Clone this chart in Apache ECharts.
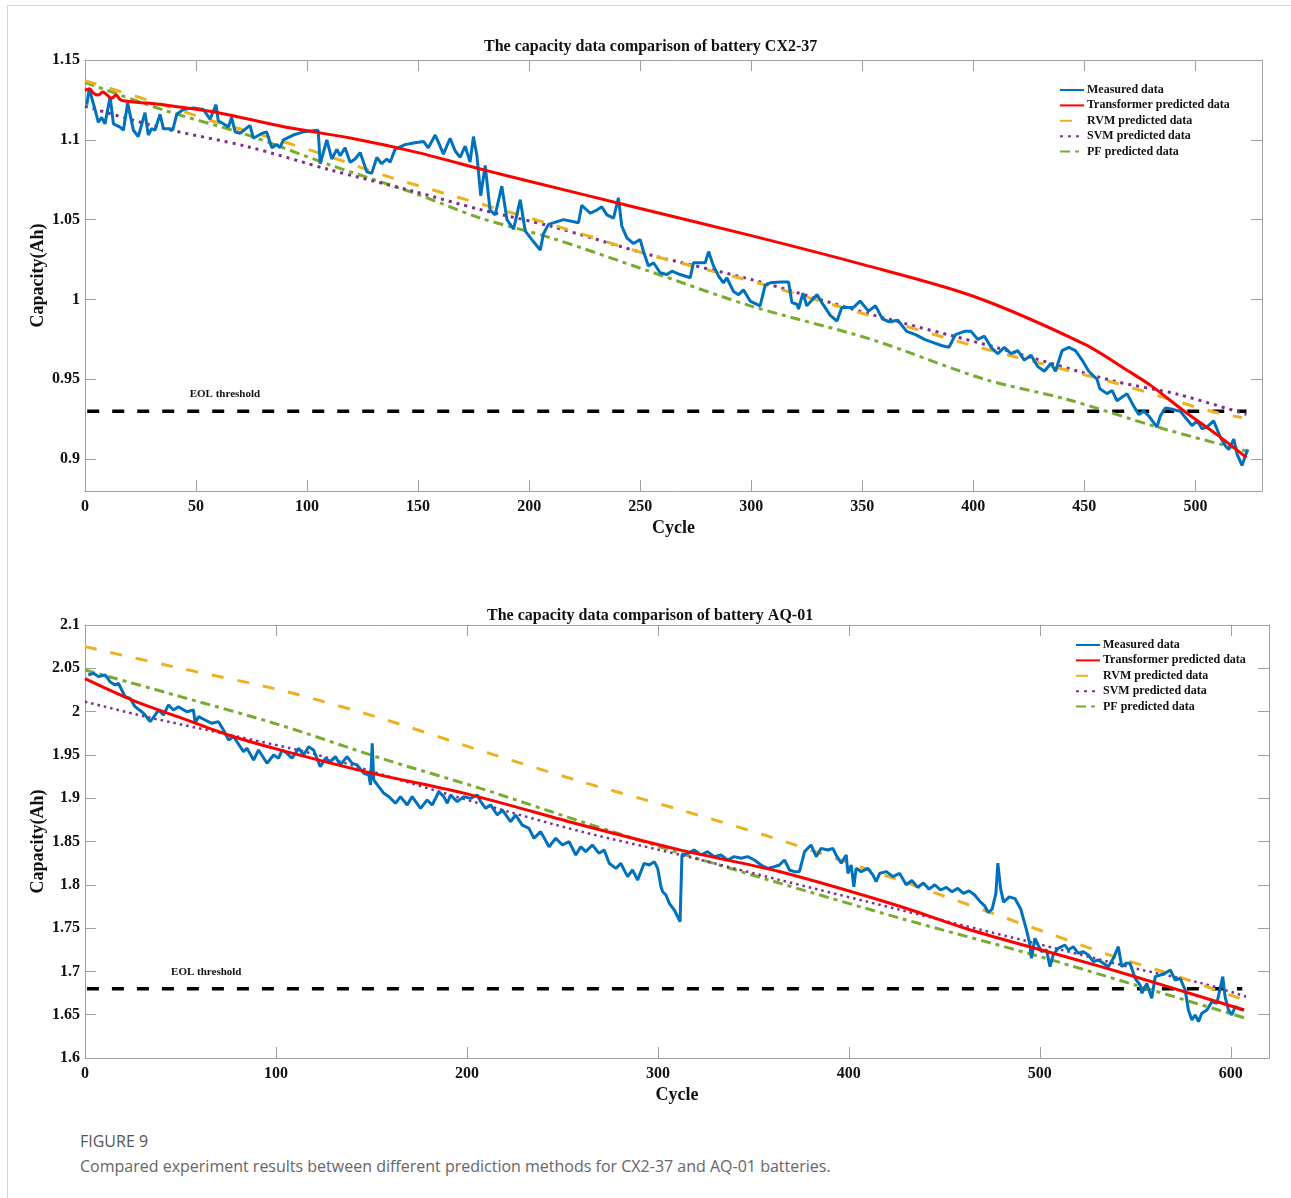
<!doctype html>
<html lang="en">
<head>
<meta charset="UTF-8">
<title>Capacity data comparison</title>
<script src="https://cdn.jsdelivr.net/npm/echarts@6/dist/echarts.min.js"></script>
<style>
  html, body { margin: 0; padding: 0; background: #fff; }
  body { width: 1291px; height: 1198px; position: relative; overflow: hidden; }
  .frame { position: absolute; left: 7px; top: 5px; right: 0; bottom: 0; z-index: 5; pointer-events: none;
           border-left: 1px solid #d4d4d4; border-top: 1px solid #d4d4d4; }
  #chart { position: absolute; left: 0; top: 0; width: 1291px; height: 1115px; }
  .fig-no { position: absolute; left: 80px; top: 1130px; font: 16px 'Open Sans', sans-serif; color: #555; }
  .fig-text { position: absolute; left: 80px; top: 1155px; font: 16px 'Open Sans', sans-serif; color: #666; }
</style>
</head>
<body>
<div id="chart"></div>
<div class="frame"></div>
<div class="fig-no">FIGURE 9</div>
<div class="fig-text">Compared experiment results between different prediction methods for CX2-37 and AQ-01 batteries.</div>

<script>
// ---- data: battery CX2-37 ----
var cx2Measured = [
  [0.8,1.122],[1.9,1.132],[4.5,1.119],[6,1.111],[7.5,1.114],[9,1.110],[11.3,1.127],[12.8,1.110],[15.8,1.108],[17.3,1.106],
  [19.2,1.123],[21.8,1.106],[24,1.102],[27,1.117],[28.5,1.103],[30,1.107],[31.5,1.106],[33.8,1.116],[35.3,1.107],[38.3,1.107],
  [39.5,1.106],[41.3,1.116],[44.3,1.119],[48.8,1.120],[53.3,1.119],[54.8,1.116],[56.3,1.113],[59,1.122],[60,1.112],[62.3,1.110],
  [64.6,1.108],[66,1.114],[67.6,1.105],[69.8,1.104],[74.3,1.109],[75.8,1.101],[79.6,1.104],[81.8,1.105],[84.1,1.095],[86.4,1.097],
  [87.8,1.095],[89.3,1.100],[93.8,1.103],[98.3,1.105],[105,1.106],[105.9,1.085],[108.9,1.100],[111.1,1.088],[113.4,1.094],[114.9,1.090],
  [117.1,1.095],[119.4,1.086],[121.6,1.088],[123.9,1.092],[126.9,1.080],[129.1,1.079],[131.4,1.089],[133.6,1.085],[135.9,1.088],[137.4,1.086],
  [139.6,1.094],[144.1,1.097],[147.9,1.098],[152.4,1.099],[154.6,1.095],[157.7,1.103],[159.9,1.096],[161.4,1.091],[164.4,1.101],[166.7,1.093],
  [168.9,1.089],[171.2,1.096],[173.4,1.086],[174.9,1.102],[176.5,1.090],[178.2,1.065],[180.2,1.084],[182.4,1.056],[184.7,1.053],[187.7,1.071],
  [190,1.050],[193,1.044],[196,1.0625],[198.2,1.043],[201.2,1.0375],[205,1.031],[206.4,1.041],[208.7,1.047],[215.5,1.050],[222.2,1.048],
  [223.7,1.059],[227.5,1.054],[230.5,1.056],[232.7,1.058],[235,1.053],[238,1.051],[240.2,1.0636],[241.7,1.046],[244,1.0386],[247,1.035],
  [250,1.0375],[251.5,1.030],[253.7,1.021],[256,1.023],[259,1.0167],[262,1.0156],[264.3,1.0177],[268,1.0156],[272.5,1.0136],[274,1.023],
  [279.3,1.023],[280.8,1.030],[283,1.021],[285.3,1.0146],[287.5,1.0104],[289,1.0136],[292,1.005],[294.3,1.003],[296.5,1.006],[299.5,0.999],
  [304,0.996],[306.3,1.009],[308.6,1.0104],[313.1,1.011],[316.8,1.011],[318.3,0.998],[320.6,0.997],[321.3,0.994],[323.3,1.004],[325,0.996],
  [329.6,1.003],[331.8,0.998],[335.6,0.990],[338.6,0.9865],[340.8,0.995],[346.1,0.995],[349,0.999],[352.8,0.9927],[356,0.996],[359,0.988],
  [362,0.986],[366,0.987],[370,0.980],[374,0.978],[378,0.975],[382,0.973],[386,0.971],[389,0.970],[392,0.978],[396,0.980],
  [399,0.980],[402,0.975],[405,0.977],[408,0.970],[411,0.966],[414,0.970],[417,0.966],[420,0.968],[423,0.962],[426,0.965],
  [429,0.958],[432,0.955],[435,0.960],[437,0.955],[440,0.968],[443,0.970],[446,0.968],[449,0.962],[452,0.955],[455.7,0.950],
  [457,0.944],[460.2,0.941],[462.5,0.943],[464.7,0.9365],[469.2,0.941],[472.2,0.9333],[474.5,0.928],[476.7,0.930],[479,0.927],[482.7,0.920],
  [484.2,0.927],[486.5,0.932],[490.2,0.931],[493.2,0.930],[495.5,0.926],[498.5,0.921],[500.8,0.924],[503,0.919],[505.2,0.920],[508.2,0.924],
  [511.3,0.9135],[513.5,0.9083],[515,0.906],[517.3,0.9125],[518.8,0.903],[521,0.896],[522.5,0.902],[523.6,0.906]
];
var cx2Transformer = [
  [0,1.131],[2,1.132],[4,1.129],[6,1.128],[8,1.130],[10,1.128],[12,1.126],[14,1.128],[16,1.125],[20,1.124],
  [28,1.123],[40,1.121],[60,1.117],[90,1.108],[120,1.101],[150,1.092],[180,1.081],[200,1.074],[250,1.057],[300,1.040],
  [350,1.022],[400,1.002],[450,0.972],[470,0.955],[480,0.946],[495,0.930],[510,0.915],[523,0.901]
];
var cx2RVM = [
  [0,1.137],[35,1.122],[58,1.1115],[82,1.102],[110,1.0896],[134,1.078],[164,1.0656],[210,1.047],[254,1.028],[300,1.0115],
  [354,0.9896],[400,0.971],[463,0.948],[507,0.930],[521,0.926]
];
var cx2SVM = [
  [0,1.121],[35,1.1073],[73,1.0958],[110,1.0813],[148,1.0677],[178,1.0563],[210,1.0458],[254,1.0281],[300,1.0125],[354,0.9906],
  [410,0.970],[463,0.949],[492,0.9406],[523,0.928]
];
var cx2PF = [
  [0,1.136],[35,1.1188],[73,1.1031],[110,1.0844],[148,1.0667],[178,1.051],[210,1.0385],[254,1.0177],[300,0.9958],[354,0.975],
  [405,0.950],[442,0.9375],[483,0.920],[523,0.905]
];
var cx2Eol = [[1,0.93],[523,0.93]];
var cx2EolLabel = [63, 0.9406];
var cx2XTicks = [0, 50, 100, 150, 200, 250, 300, 350, 400, 450, 500];
var cx2YTicks = [0.9, 0.95, 1, 1.05, 1.1, 1.15];

// ---- data: battery AQ-01 ----
var aqMeasured = [
  [1.75,2.0423],[4.4,2.0442],[7,2.0404],[10.5,2.0423],[13.1,2.0346],[15.7,2.0307],[17.5,2.0327],[21,2.0173],[23.6,2.0153],[26.2,2.0057],
  [29.7,1.9999],[31.5,1.996],[34.1,1.9884],[36.7,1.996],[38.5,2.0019],[41.1,1.996],[43.7,2.0077],[46.3,2.0019],[48.9,2.0057],[53.3,1.9999],
  [56.8,2.0019],[57.7,1.9865],[59.4,1.9942],[62.9,1.9903],[66.4,1.9865],[69.9,1.9884],[72.5,1.9788],[75.2,1.9672],[77.8,1.9711],[83,1.9538],
  [84.8,1.9576],[88.3,1.9441],[90.9,1.9557],[95.3,1.9403],[98.8,1.9499],[101.4,1.9461],[103.2,1.9557],[105.8,1.9518],[108.4,1.9461],[111.9,1.9576],
  [114.5,1.9499],[117.1,1.9595],[119.7,1.9557],[123.2,1.9364],[125.9,1.9461],[128.5,1.9422],[131.1,1.948],[133.7,1.9384],[137.2,1.948],[139.9,1.9403],
  [142.5,1.9384],[146,1.9287],[148.6,1.9268],[149.5,1.9153],[150.4,1.9634],[151.2,1.921],[153.8,1.9133],[156.5,1.9056],[159.1,1.9018],[162.6,1.8941],
  [165.2,1.9018],[168.7,1.8922],[171.3,1.9018],[175.7,1.8883],[179.2,1.8979],[181.8,1.8922],[185.3,1.9075],[187.9,1.9018],[189.7,1.8941],[191.4,1.9037],
  [194.9,1.896],[198.4,1.9018],[201.9,1.8998],[205.4,1.9037],[207.2,1.896],[209.8,1.8883],[212.4,1.8922],[215.9,1.8806],[218.5,1.8864],[222.9,1.8729],
  [225.5,1.8806],[229,1.869],[232.5,1.8652],[235.1,1.8537],[238.6,1.8614],[243,1.844],[246.5,1.8537],[250,1.846],[253.5,1.8498],[257,1.8344],
  [259.6,1.844],[262.2,1.8383],[265.7,1.846],[269.2,1.8363],[271.9,1.8402],[274.5,1.8248],[278,1.819],[280.6,1.8248],[284.1,1.8094],[286.7,1.8171],
  [289.4,1.8056],[292.8,1.8248],[295.5,1.8229],[298.1,1.8267],[299.9,1.819],[301.6,1.7978],[302.5,1.792],[304.2,1.7882],[306,1.7786],[308.6,1.7709],
  [311.6,1.7574],[312.6,1.8344],[315.6,1.8363],[319,1.8402],[322.5,1.8344],[326,1.8383],[329.5,1.8325],[333,1.8344],[336.5,1.8286],[340,1.8325],
  [343.5,1.8306],[347,1.8325],[350.5,1.8286],[354,1.8229],[357.5,1.819],[361,1.8209],[363.6,1.8229],[366.3,1.8286],[368.9,1.8171],[371.5,1.8152],
  [374.1,1.8152],[376.8,1.8383],[380.2,1.846],[382.9,1.8325],[385.5,1.8421],[389,1.8402],[391.6,1.8421],[393.3,1.8344],[396,1.8248],[398.6,1.8344],
  [399.5,1.8132],[401.2,1.8229],[402.6,1.7978],[403.8,1.819],[406.5,1.8152],[409.9,1.819],[412.6,1.8113],[414.3,1.8036],[416.1,1.8132],[419.6,1.8152],
  [423.1,1.8094],[426.6,1.8132],[430,1.800],[433,1.805],[436,1.797],[439,1.802],[442,1.795],[445,1.800],[448,1.794],[451,1.797],
  [454,1.792],[457,1.796],[460,1.790],[463,1.793],[466,1.788],[469,1.780],[471,1.776],[473,1.768],[475,1.772],[477,1.790],
  [478,1.825],[479.5,1.795],[481,1.780],[484,1.786],[487,1.784],[490,1.772],[493,1.748],[494.7,1.7324],[495.6,1.7151],[497.4,1.7382],
  [499.1,1.7305],[500.9,1.7228],[503.5,1.7247],[505.3,1.7055],[507,1.719],[509.6,1.7266],[513.1,1.7305],[514.9,1.7247],[517.5,1.7286],[520.1,1.7209],
  [522.8,1.7228],[525.4,1.719],[528,1.7112],[530.6,1.7132],[533.3,1.7093],[535.9,1.7055],[538.5,1.7151],[541.1,1.7286],[542.9,1.7055],[545,1.7093],
  [547.2,1.7093],[549.9,1.692],[552.5,1.6843],[553.4,1.6747],[556,1.6862],[558.6,1.6689],[560.4,1.6939],[563,1.6958],[565.6,1.6978],[568.3,1.7016],
  [570.9,1.6901],[573.5,1.692],[576.1,1.6785],[577.8,1.6554],[579.6,1.6439],[581.3,1.6497],[583.1,1.642],[584.8,1.6516],[587.5,1.6554],[590.1,1.665],
  [592.7,1.6631],[594.4,1.6804],[595.8,1.6939],[597,1.6708],[598.8,1.6554],[600.5,1.6497],[602.3,1.6593],[604,1.6573],[606.6,1.6554]
];
var aqTransformer = [
  [0,2.038],[25,2.013],[50,1.993],[75,1.973],[100,1.957],[150,1.929],[200,1.905],[260,1.869],[312,1.840],[364,1.815],
  [427,1.775],[462,1.749],[497,1.727],[532,1.7055],[567,1.6824],[607,1.6554]
];
var aqRVM = [
  [0,2.075],[50,2.05],[102,2.025],[155,1.9923],[210,1.953],[260,1.919],[312,1.8864],[364,1.8517],[426,1.8055],[502,1.746],
  [539,1.717],[567,1.698],[607,1.667]
];
var aqSVM = [
  [0,2.0115],[32,1.994],[76,1.973],[120,1.951],[150,1.931],[208,1.893],[260,1.8614],[312,1.8344],[364,1.8055],[427,1.771],
  [493,1.735],[550,1.7035],[585,1.6862],[608,1.6708]
];
var aqPF = [
  [0,2.048],[50,2.0173],[102,1.9846],[155,1.9461],[207,1.9114],[260,1.8729],[312,1.8363],[364,1.8017],[427,1.7613],[497,1.719],
  [550,1.6843],[608,1.6458]
];
var aqEol = [[1,1.68],[606,1.68]];
var aqEolLabel = [63.5, 1.6993];
var aqXTicks = [0, 100, 200, 300, 400, 500, 600];
var aqYTicks = [1.6, 1.65, 1.7, 1.75, 1.8, 1.85, 1.9, 1.95, 2, 2.05, 2.1];

var legendNames = ['Measured data', 'Transformer predicted data', 'RVM predicted data', 'SVM predicted data', 'PF predicted data'];

// ---- styles ----
var serif = "'Liberation Serif', 'Times New Roman', serif";
var axisGray = '#a0a0a0';
var ink = '#111';

function xAxis(grid, max, ticks, mirror) {
  return {
    type: 'value', gridIndex: grid, min: 0, max: max,
    position: mirror ? 'top' : 'bottom',
    name: mirror ? '' : 'Cycle', nameLocation: 'middle', nameGap: 28, nameMoveOverlap: false,
    nameTextStyle: { fontFamily: serif, fontWeight: 'bold', fontSize: 18, color: ink },
    axisLine: { show: true, onZero: false, lineStyle: { color: axisGray, width: 1 } },
    axisTick: { show: true, inside: true, length: 11, customValues: ticks, lineStyle: { color: axisGray } },
    axisLabel: { show: !mirror, customValues: ticks, margin: 8, fontFamily: serif, fontWeight: 'bold', fontSize: 16, color: ink },
    splitLine: { show: false }
  };
}

function yAxis(grid, min, max, ticks, mirror) {
  return {
    type: 'value', gridIndex: grid, min: min, max: max,
    position: mirror ? 'right' : 'left',
    name: mirror ? '' : 'Capacity(Ah)', nameLocation: 'middle', nameGap: 38, nameMoveOverlap: false,
    nameTextStyle: { fontFamily: serif, fontWeight: 'bold', fontSize: 18, color: ink },
    axisLine: { show: true, onZero: false, lineStyle: { color: axisGray, width: 1 } },
    axisTick: { show: true, inside: true, length: 11, customValues: ticks, lineStyle: { color: axisGray } },
    axisLabel: { show: !mirror, customValues: ticks, margin: 5, fontFamily: serif, fontWeight: 'bold', fontSize: 16, color: ink },
    splitLine: { show: false }
  };
}

function line(name, data, idx, color, type, width, smooth) {
  return {
    name: name, type: 'line', data: data, xAxisIndex: idx, yAxisIndex: idx,
    symbol: 'none', smooth: smooth, silent: true,
    lineStyle: { color: color, width: width, type: type, cap: 'butt' },
    itemStyle: { color: color }
  };
}

function eol(data, idx, labelAt) {
  var s = line('EOL threshold', data, idx, '#000', [12, 13], 3.5, false);
  s.markPoint = {
    symbol: 'circle', symbolSize: 0, silent: true,
    label: { show: true, position: 'inside', formatter: 'EOL threshold', fontFamily: serif, fontWeight: 'bold', fontSize: 11, color: ink },
    data: [{ coord: labelAt }]
  };
  return s;
}

// legend keeps the line sample only (no marker dot)
function legend(left, top) {
  return {
    data: legendNames, orient: 'vertical', left: left, top: top,
    itemWidth: 24, itemHeight: 12, itemGap: 3.4, selectedMode: false,
    itemStyle: { opacity: 0 },
    textStyle: { fontFamily: serif, fontWeight: 'bold', fontSize: 12, color: ink, padding: [0, 0, 0, -2] }
  };
}

var chart = echarts.init(document.getElementById('chart'), null, { renderer: 'canvas' });

chart.setOption({
  animation: false,
  backgroundColor: 'transparent',
  title: [
    { text: 'The capacity data comparison of battery CX2-37', left: 484, top: 39, padding: 0,
      textStyle: { fontFamily: serif, fontWeight: 'bold', fontSize: 16, color: ink } },
    { text: 'The capacity data comparison of battery AQ-01', left: 487, top: 608, padding: 0,
      textStyle: { fontFamily: serif, fontWeight: 'bold', fontSize: 16, color: ink } }
  ],
  legend: [legend(1054, 79), legend(1070, 634)],
  grid: [
    { left: 85, top: 60, width: 1177, height: 431, outerBoundsMode: 'none' },
    { left: 85, top: 625, width: 1184, height: 433, outerBoundsMode: 'none' }
  ],
  xAxis: [
    xAxis(0, 530, cx2XTicks, false), xAxis(0, 530, cx2XTicks, true),
    xAxis(1, 620, aqXTicks, false), xAxis(1, 620, aqXTicks, true)
  ],
  yAxis: [
    yAxis(0, 0.88, 1.15, cx2YTicks, false), yAxis(0, 0.88, 1.15, cx2YTicks, true),
    yAxis(1, 1.6, 2.1, aqYTicks, false), yAxis(1, 1.6, 2.1, aqYTicks, true)
  ],
  series: [
    eol(cx2Eol, 0, cx2EolLabel),
    line('PF predicted data', cx2PF, 0, '#77AC30', [10, 5, 4, 5], 3, 0.3),
    line('SVM predicted data', cx2SVM, 0, '#7E2F8E', [3, 5], 3, 0.3),
    line('RVM predicted data', cx2RVM, 0, '#EDB120', [12, 14], 3, 0.3),
    line('Measured data', cx2Measured, 0, '#0072BD', 'solid', 3, false),
    line('Transformer predicted data', cx2Transformer, 0, '#FF0000', 'solid', 3, 0.3),

    eol(aqEol, 2, aqEolLabel),
    line('PF predicted data', aqPF, 2, '#77AC30', [10, 5, 4, 5], 3, 0.3),
    line('SVM predicted data', aqSVM, 2, '#7E2F8E', [2.5, 4], 2.5, 0.3),
    line('RVM predicted data', aqRVM, 2, '#EDB120', [12, 14], 3, 0.3),
    line('Measured data', aqMeasured, 2, '#0072BD', 'solid', 3, false),
    line('Transformer predicted data', aqTransformer, 2, '#FF0000', 'solid', 3, 0.3)
  ]
});
</script>
</body>
</html>
